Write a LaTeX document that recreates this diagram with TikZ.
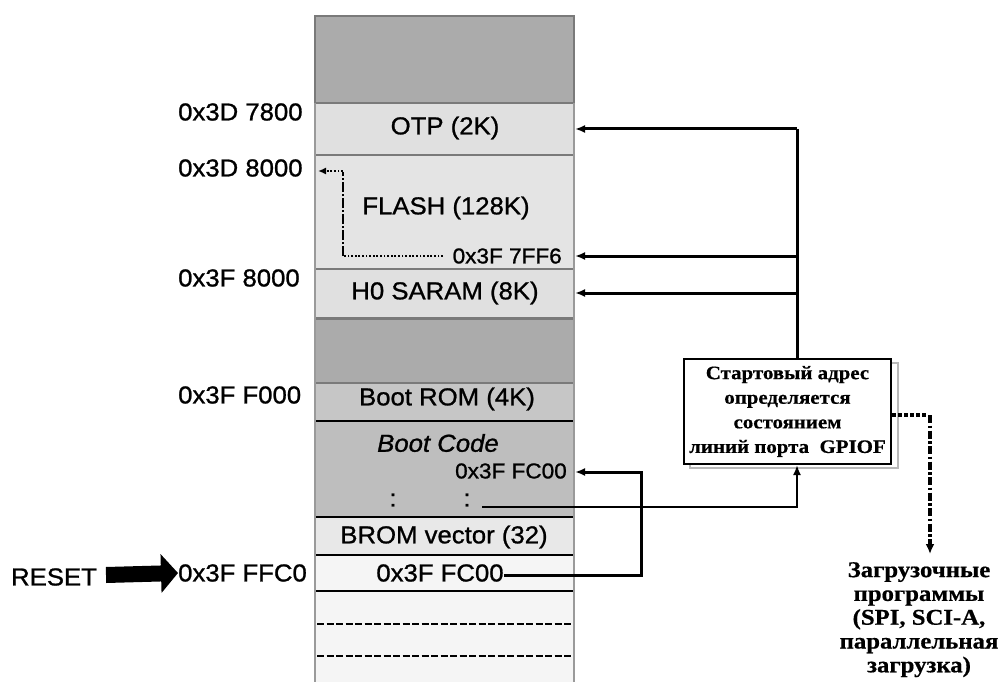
\documentclass[tikz,border=0pt]{standalone}
\usepackage{fontspec}
\usetikzlibrary{arrows.meta,calc}
\newfontfamily\sansf{Liberation Sans}[FakeStretch=1.05,FakeBold=1]
\newfontfamily\seriff{Liberation Serif}[FakeStretch=1.1,FakeBold=0.6]
\definecolor{dgray}{HTML}{ABABAB}
\definecolor{lgray}{HTML}{E0E0E0}
\definecolor{fgray}{HTML}{E4E4E4}
\definecolor{rgray}{HTML}{C6C6C6}
\definecolor{cgray}{HTML}{BEBEBE}
\definecolor{vgray}{HTML}{E8E8E8}
\definecolor{wgray}{HTML}{F5F5F5}
\definecolor{edge}{HTML}{7A7A7A}
\definecolor{side}{HTML}{9A9A9A}
\begin{document}
\begin{tikzpicture}[x=1pt,y=-1pt,
  lbl/.style={font=\sansf\fontsize{24.5}{28}\selectfont, inner sep=0pt},
  sml/.style={font=\sansf\fontsize{21.5}{24}\selectfont, inner sep=0pt},
  sep/.style={draw=edge, line width=1.6pt},
  blk/.style={draw=black, line width=1.6pt},
  tip/.style={-{Latex[length=10pt,width=8pt]}},
  bus/.style={line width=3pt, tip},
  thin/.style={line width=2pt, tip},
  dots/.style={line width=1.8pt, dash pattern=on 1.8pt off 1.8pt},
  boxtext/.style={font=\seriff\bfseries\fontsize{19}{24.6}\selectfont, align=center, inner sep=0pt},
  loadtext/.style={font=\seriff\bfseries\fontsize{22.5}{23.8}\selectfont, align=center, inner sep=0pt}]
\useasboundingbox (0,0) rectangle (999,682);

% ---- memory column ----
\fill[dgray] (315,16) rectangle (574,103);
\fill[lgray] (315,103) rectangle (574,155);
\fill[fgray] (315,155) rectangle (574,269);
\fill[lgray] (315,269) rectangle (574,318);
\fill[dgray] (315,319) rectangle (574,383);
\fill[rgray] (315,383) rectangle (574,421);
\fill[cgray] (315,421) rectangle (574,517);
\fill[vgray] (315,517) rectangle (574,555);
\fill[wgray] (315,555) rectangle (574,682);
\draw[sep] (315,16) rectangle (574,103);
\draw[sep] (315,155) -- (574,155);
\draw[sep] (315,269) -- (574,269);
\draw[sep] (315,318) -- (574,318);
\draw[sep] (315,319) rectangle (574,383);
\draw[side, line width=2.5pt] (315,103) -- (315,682);
\draw[side, line width=2.5pt] (574,103) -- (574,682);
\draw[blk] (316,421) -- (573,421);
\draw[blk] (316,517) -- (573,517);
\draw[blk] (316,555) -- (573,555);
\draw[blk] (316,591) -- (573,591);
\draw[line width=2.5pt, dash pattern=on 7pt off 2.5pt] (317,624) -- (573,624);
\draw[line width=2.5pt, dash pattern=on 7pt off 2.5pt] (317,656) -- (573,656);

% ---- texts inside ----
\node[lbl] (otp) at (445,128) {OTP (2K)};
\node[lbl] (flash) at (446,208) {FLASH (128K)};
\node[sml, anchor=east] (f7ff6) at (562,256) {0x3F 7FF6};
\node[lbl] (h0) at (445,293) {H0 SARAM (8K)};
\node[lbl] (brom) at (447,399) {Boot ROM (4K)};
\node[lbl, font=\sansf\itshape\fontsize{24.5}{28}\selectfont] (bcode) at (438,443) {Boot Code};
\node[sml, anchor=east] (fc00s) at (567,471) {0x3F FC00};
\node[lbl] (col1) at (393,500) {:};
\node[lbl] (col2) at (467,500) {:};
\node[lbl] (bvec) at (444,537) {BROM vector (32)};
\node[lbl] (fc00) at (440,573) {0x3F FC00};

% ---- address labels ----
\node[lbl, anchor=west] (a1) at (178,112) {0x3D 7800};
\node[lbl, anchor=west] (a2) at (178,168) {0x3D 8000};
\node[lbl, anchor=west] (a3) at (178,278) {0x3F 8000};
\node[lbl, anchor=west] (a4) at (178,395) {0x3F F000};
\node[lbl, anchor=west] (a5) at (178,573) {0x3F FFC0};
\node[lbl] (reset) at (54,577) {RESET};
\draw[line width=16pt, -{Triangle[length=17pt,width=38pt]}] (106,575) -- (a5.west);

% ---- start address box ----
\draw[gray!55, line width=1.2pt] (690,363) rectangle (898,468);
\node[draw, line width=2pt, fill=white, minimum width=207pt, minimum height=105pt, boxtext] (start) at (787.5,411.5)
  {Стартовый адрес\\определяется\\состоянием\\линий порта~~GPIOF};
\coordinate (bus) at (797,129);
\coordinate (y575) at (0,575);
\coordinate (y415) at (0,415);
\draw[line width=3pt] (bus) -- (bus |- start.north);
\draw[bus] (bus) -- (575,129);
\draw[bus] (797,256) -- (575,256);
\draw[bus] (797,293) -- (575,293);

% ---- boot code links ----
\coordinate (cl) at (482,507);
\draw[thin] (cl) -- (797,507) -- (bus |- start.south);
\draw[bus] (fc00.east |- y575) -- (641,575) -- (641,472) -- (575,472);

% ---- flash entry ----
\draw[dots] (443,256) -- (343,256);
\draw[line width=1.8pt, dash pattern=on 10pt off 2pt on 2pt off 2pt] (343,256) -- (343,172);
\draw[dots, -{Latex[length=8pt,width=7pt]}] (343,171) -- (318,171);

% ---- loaders ----
\node[loadtext, anchor=north] (load) at (919,562)
  {Загрузочные\\программы\\(SPI, SCI-A,\\параллельная\\загрузка)};
\draw[line width=3.5pt, dash pattern=on 3.5pt off 2.5pt] (start.east |- y415) -- (928,415);
\draw[line width=3.5pt, dash pattern=on 8pt off 2.5pt on 2.5pt off 2.5pt, -{Latex[length=10pt,width=9pt]}] (930,415) -- (930,554);
\end{tikzpicture}
\end{document}
